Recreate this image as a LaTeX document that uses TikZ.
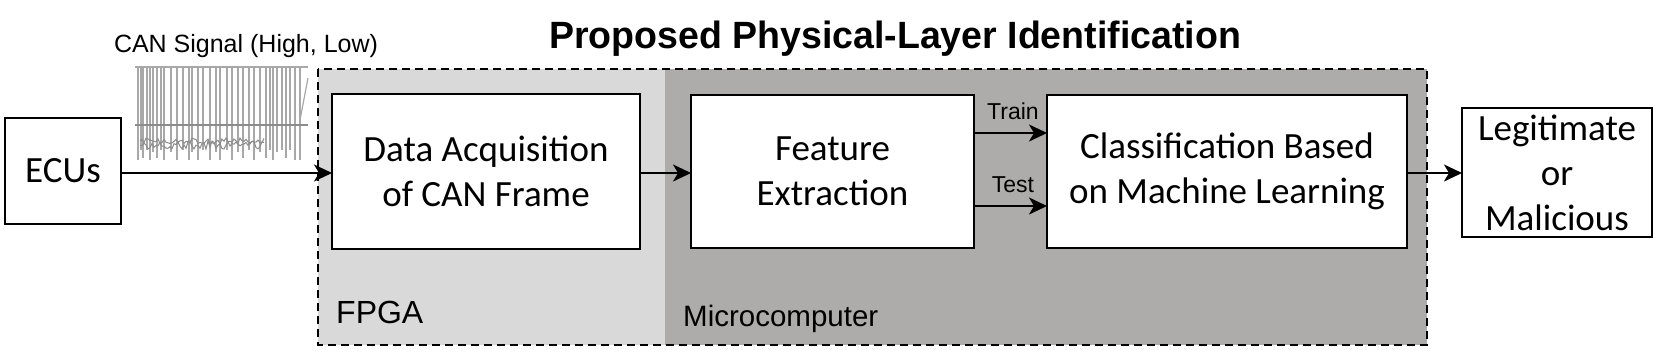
\documentclass[tikz,border=0pt]{standalone}
\usepackage{fontspec}
\setmainfont{Carlito}
\newfontfamily\arialf{Liberation Sans}
\usetikzlibrary{arrows.meta}
\definecolor{fpgagray}{HTML}{D9D9D9}
\definecolor{mcgray}{HTML}{AEABAB}
\definecolor{siggray}{HTML}{A8A8A8}
\definecolor{sigdark}{HTML}{8C8C8C}
\tikzset{
  blockbox/.style={draw, line width=2.2pt, fill=white, align=center, inner sep=0pt, outer sep=0pt,
    font=\fontsize{37}{45}\selectfont},
  arr/.style={line width=2.2pt, -{Stealth[length=18pt, width=17pt, inset=5pt]}},
  smalllab/.style={font=\arialf\fontsize{23}{26}\selectfont, inner sep=0pt},
  regionlab/.style={font=\arialf\fontsize{30}{34}\selectfont, inner sep=0pt, anchor=base west},
  sigline/.style={siggray, line width=1.3pt}
}
\begin{document}
\begin{tikzpicture}[x=1pt,y=-1pt]
\useasboundingbox (0,0) rectangle (1660,354);
% regions
\fill[fpgagray] (318,69) rectangle (665,345);
\fill[mcgray] (665,69) rectangle (1427,345);
\draw[line width=2pt, dash pattern=on 8pt off 5pt] (318,69) rectangle (1427,345);
% title
\node[inner sep=0pt, anchor=base] (title) at (895,48) {\resizebox{692pt}{\height}{\arialf\bfseries\fontsize{38}{42}\selectfont Proposed Physical-Layer Identification}};
\node[smalllab, font=\arialf\fontsize{25}{28}\selectfont, anchor=base] (canlab) at (246,52) {CAN Signal (High, Low)};
% signal sketch
\draw[siggray, line width=2.5pt] (135,67) -- (308,67);
\foreach \x/\b in {138/160,141/150,143/158,147/150,150/160,153/152,157/158,161/150,164/160,171/152,177/160,183/150,189/160,192/152,198/160,203/150,210/160,216/152,220/160,227/150,232/160,238/152,243/158,249/150,254/160,260/152,266/158,270/150,273/160,277/152,282/150,286/158,290/150,295/160,300/160}
  \draw[sigline] (\x,67) -- (\x,\b);
\draw[sigdark, line width=2.5pt] (135,125) -- (308,125);
\pgfmathsetseed{7}
\draw[sigdark, line width=1pt] (140,145) \foreach \i in {1,...,62} { -- ({140+2*\i},{145+rand*4}) };
\draw[sigdark, line width=1pt] (140,141) \foreach \i in {1,...,62} { -- ({140+2*\i},{141+rand*3}) };
\draw[siggray, line width=1.2pt] (308,78) -- (300,120);
% blocks
\node[blockbox, minimum width=116pt, minimum height=106pt] (ecu) at (63,171) {ECUs};
\node[blockbox, minimum width=308pt, minimum height=155pt] (daq) at (486,171.5) {Data Acquisition\\of CAN Frame};
\node[blockbox, minimum width=283pt, minimum height=153pt] (feat) at (832.5,171.5) {Feature\\Extraction};
\node[blockbox, minimum width=360pt, minimum height=153pt] (cls) at (1227,171.5) {Classification Based\\on Machine Learning};
\node[blockbox, minimum width=190pt, minimum height=129pt] (out) at (1557,172.5) {Legitimate\\or\\Malicious};
% region labels
\node[regionlab, font=\arialf\fontsize{32}{36}\selectfont] (fpga) at (336,323) {FPGA};
\node[regionlab, font=\arialf\fontsize{29.5}{34}\selectfont] (mc) at (683,326) {Microcomputer};
% arrows
\draw[arr] (ecu.east |- 0,173) -- (daq.west |- 0,173);
\draw[arr] (daq.east |- 0,173) -- (feat.west |- 0,173);
\draw[arr] (feat.east |- 0,133) -- (cls.west |- 0,133);
\draw[arr] (feat.east |- 0,206) -- (cls.west |- 0,206);
\draw[arr] (cls.east |- 0,173) -- (out.west |- 0,173);
\node[smalllab, anchor=base] (train) at (1013,119) {Train};
\node[smalllab, anchor=base] (test) at (1013,192) {Test};
\end{tikzpicture}
\end{document}
